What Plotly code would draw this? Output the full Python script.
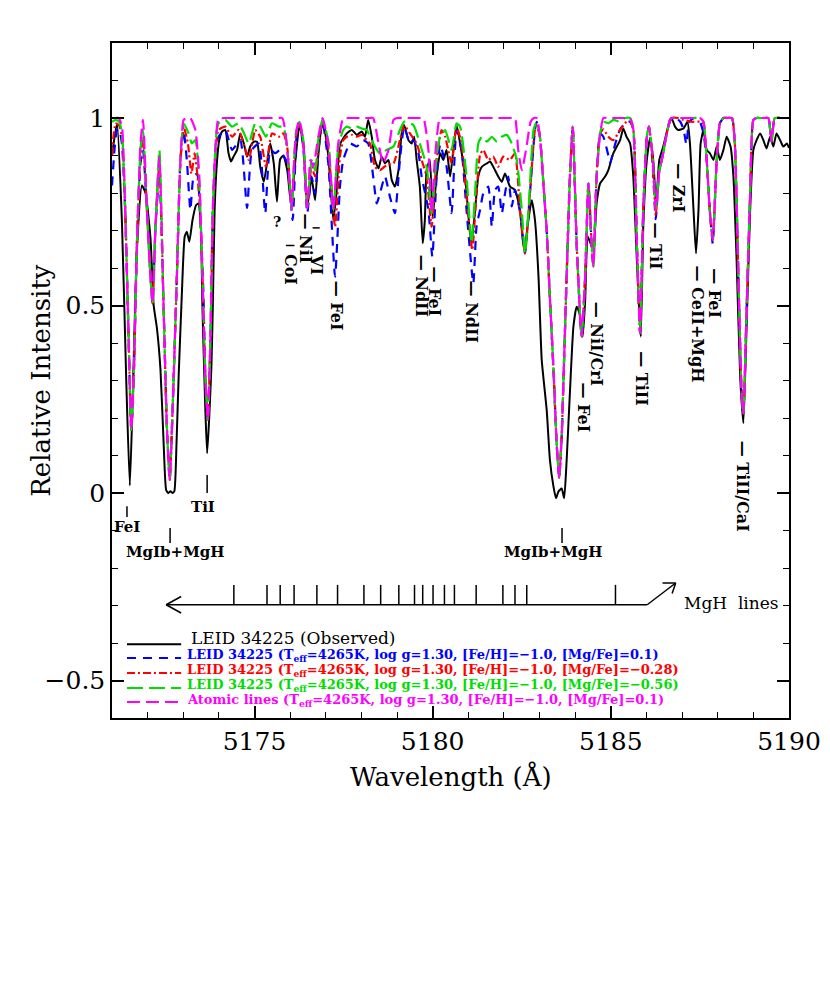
import plotly.graph_objects as go

# ---------------- data (wavelength in Angstrom, relative flux) ----------------
observed = [(5171.00,0.90),(5171.14,0.986),(5171.28,0.72),(5171.40,0.30),(5171.50,0.02),(5171.58,0.25),(5171.70,0.65),(5171.84,0.82),(5171.94,0.80),(5172.08,0.68),(5172.17,0.50),(5172.26,0.44),(5172.36,0.33),(5172.45,0.13),(5172.52,0.008),(5172.58,0.0),(5172.64,0.005),(5172.70,0.0),(5172.75,0.005),(5172.81,0.13),(5172.87,0.31),(5172.96,0.53),(5173.04,0.684),(5173.10,0.697),(5173.17,0.670),(5173.26,0.728),(5173.36,0.768),(5173.43,0.772),(5173.49,0.719),(5173.54,0.488),(5173.62,0.221),(5173.67,0.106),(5173.73,0.204),(5173.79,0.337),(5173.83,0.50),(5173.88,0.755),(5173.95,0.888),(5174.01,0.941),(5174.09,0.964),(5174.18,0.968),(5174.27,0.906),(5174.34,0.884),(5174.41,0.897),(5174.51,0.915),(5174.60,0.959),(5174.70,0.932),(5174.79,0.897),(5174.88,0.924),(5174.98,0.937),(5175.07,0.937),(5175.16,0.870),(5175.26,0.830),(5175.35,0.879),(5175.44,0.932),(5175.54,0.879),(5175.63,0.777),(5175.72,0.890),(5175.81,0.90),(5175.92,0.86),(5176.03,0.765),(5176.14,0.88),(5176.26,0.98),(5176.37,0.93),(5176.48,0.764),(5176.60,0.84),(5176.70,0.781),(5176.79,0.90),(5176.91,0.999),(5177.07,0.90),(5177.21,0.728),(5177.30,0.80),(5177.40,0.93),(5177.59,0.959),(5177.73,0.968),(5177.87,0.955),(5178.01,0.964),(5178.10,0.950),(5178.19,0.995),(5178.29,0.95),(5178.38,0.888),(5178.48,0.866),(5178.57,0.897),(5178.66,0.879),(5178.76,0.888),(5178.85,0.835),(5178.94,0.817),(5179.04,0.861),(5179.13,0.959),(5179.20,0.981),(5179.32,0.941),(5179.41,0.932),(5179.48,0.950),(5179.55,0.888),(5179.64,0.817),(5179.72,0.666),(5179.78,0.728),(5179.83,0.861),(5179.92,0.888),(5180.00,0.737),(5180.11,0.844),(5180.21,0.906),(5180.30,0.888),(5180.39,0.915),(5180.49,0.844),(5180.58,0.915),(5180.67,0.981),(5180.77,0.932),(5180.91,0.844),(5181.03,0.71),(5181.09,0.666),(5181.19,0.755),(5181.28,0.844),(5181.38,0.870),(5181.52,0.879),(5181.61,0.884),(5181.70,0.870),(5181.84,0.844),(5181.94,0.830),(5182.03,0.852),(5182.17,0.817),(5182.31,0.808),(5182.45,0.755),(5182.54,0.666),(5182.59,0.648),(5182.66,0.710),(5182.78,0.781),(5182.87,0.728),(5182.97,0.577),(5183.06,0.355),(5183.20,0.221),(5183.29,0.088),(5183.39,0.017),(5183.46,-0.014),(5183.53,0.004),(5183.62,0.012),(5183.69,-0.014),(5183.76,0.088),(5183.85,0.266),(5183.95,0.444),(5184.04,0.497),(5184.12,0.479),(5184.21,0.417),(5184.28,0.515),(5184.35,0.684),(5184.43,0.666),(5184.51,0.648),(5184.60,0.772),(5184.70,0.826),(5184.84,0.844),(5184.93,0.861),(5185.07,0.906),(5185.26,0.941),(5185.35,0.972),(5185.44,0.950),(5185.54,0.932),(5185.63,0.844),(5185.73,0.621),(5185.84,0.417),(5185.91,0.710),(5186.01,0.888),(5186.10,0.946),(5186.19,0.888),(5186.27,0.772),(5186.36,0.888),(5186.47,0.924),(5186.61,0.977),(5186.71,0.999),(5186.80,0.977),(5186.89,0.968),(5187.04,0.972),(5187.15,0.990),(5187.22,0.932),(5187.32,0.755),(5187.39,0.639),(5187.46,0.755),(5187.52,0.932),(5187.60,0.968),(5187.69,0.915),(5187.78,0.906),(5187.88,0.888),(5187.97,0.924),(5188.06,0.888),(5188.16,0.915),(5188.25,0.950),(5188.36,0.924),(5188.44,0.844),(5188.53,0.621),(5188.63,0.310),(5188.72,0.186),(5188.81,0.444),(5188.91,0.755),(5189.00,0.915),(5189.09,0.941),(5189.19,0.959),(5189.28,0.941),(5189.37,0.919),(5189.47,0.950),(5189.56,0.924),(5189.65,0.959),(5189.75,0.941),(5189.84,0.924),(5189.94,0.932),(5190.00,0.92)]

model_mgfe_p010 = [(5171.00,0.82),(5171.14,0.968),(5171.20,0.97),(5171.28,0.93),(5171.37,0.755),(5171.47,0.399),(5171.54,0.168),(5171.61,0.31),(5171.70,0.666),(5171.80,0.88),(5171.87,0.915),(5171.98,0.755),(5172.08,0.577),(5172.14,0.505),(5172.22,0.71),(5172.33,0.85),(5172.45,0.488),(5172.54,0.177),(5172.62,0.035),(5172.70,0.221),(5172.82,0.577),(5172.92,0.888),(5173.01,0.968),(5173.10,0.888),(5173.20,0.755),(5173.29,0.844),(5173.39,0.852),(5173.48,0.728),(5173.56,0.55),(5173.62,0.31),(5173.69,0.195),(5173.76,0.399),(5173.83,0.755),(5173.92,0.93),(5173.99,0.95),(5174.18,0.968),(5174.37,0.915),(5174.60,0.941),(5174.79,0.76),(5174.93,0.915),(5175.12,0.932),(5175.30,0.746),(5175.44,0.915),(5175.58,0.906),(5175.72,0.915),(5175.81,0.90),(5175.92,0.88),(5176.07,0.728),(5176.18,0.95),(5176.26,0.986),(5176.37,0.92),(5176.48,0.746),(5176.60,0.844),(5176.70,0.799),(5176.80,0.92),(5176.91,0.99),(5177.07,0.88),(5177.26,0.577),(5177.40,0.82),(5177.49,0.888),(5177.68,0.932),(5177.87,0.924),(5178.05,0.941),(5178.19,0.932),(5178.33,0.844),(5178.43,0.772),(5178.52,0.799),(5178.66,0.844),(5178.80,0.790),(5178.94,0.746),(5179.08,0.888),(5179.20,0.977),(5179.36,0.932),(5179.46,0.941),(5179.60,0.906),(5179.69,0.844),(5179.88,0.755),(5179.99,0.63),(5180.11,0.844),(5180.21,0.93),(5180.30,0.90),(5180.39,0.870),(5180.53,0.746),(5180.67,0.968),(5180.81,0.915),(5180.95,0.755),(5181.14,0.559),(5181.23,0.71),(5181.33,0.755),(5181.42,0.799),(5181.56,0.817),(5181.66,0.710),(5181.75,0.808),(5181.84,0.817),(5181.94,0.746),(5182.03,0.799),(5182.12,0.844),(5182.22,0.764),(5182.31,0.808),(5182.45,0.75),(5182.59,0.639),(5182.73,0.80),(5182.87,0.968),(5182.92,0.99),(5183.01,0.95),(5183.11,0.82),(5183.20,0.70),(5183.29,0.52),(5183.39,0.33),(5183.48,0.13),(5183.55,0.04),(5183.62,0.15),(5183.67,0.30),(5183.76,0.58),(5183.85,0.84),(5183.93,0.977),(5184.04,0.666),(5184.18,0.417),(5184.28,0.577),(5184.37,0.826),(5184.46,0.666),(5184.51,0.604),(5184.60,0.844),(5184.70,0.959),(5184.79,0.95),(5184.93,0.90),(5184.98,0.88),(5185.12,0.93),(5185.26,0.97),(5185.44,0.99),(5185.54,0.99),(5185.63,0.97),(5185.73,0.666),(5185.82,0.426),(5185.91,0.755),(5186.01,0.95),(5186.07,0.977),(5186.17,0.88),(5186.26,0.73),(5186.36,0.86),(5186.43,0.888),(5186.57,0.959),(5186.66,0.995),(5186.71,1.0),(5186.83,1.0),(5186.95,0.99),(5187.04,0.97),(5187.12,0.93),(5187.20,0.99),(5187.35,1.0),(5187.50,0.99),(5187.60,0.96),(5187.69,0.888),(5187.78,0.75),(5187.86,0.665),(5187.93,0.80),(5187.97,0.888),(5188.06,0.986),(5188.16,1.0),(5188.28,1.0),(5188.40,1.0),(5188.48,0.932),(5188.58,0.577),(5188.67,0.266),(5188.72,0.212),(5188.81,0.488),(5188.91,0.799),(5189.00,0.995),(5189.09,1.0),(5189.20,1.0),(5189.32,1.0),(5189.42,1.0),(5189.51,0.937),(5189.60,1.0),(5189.75,1.0),(5189.90,1.0),(5190.00,1.0)]

model_mgfe_m028 = [(5171.00,0.90),(5171.10,0.985),(5171.20,0.98),(5171.28,0.95),(5171.37,0.755),(5171.47,0.399),(5171.54,0.168),(5171.61,0.31),(5171.70,0.666),(5171.80,0.90),(5171.87,0.95),(5171.98,0.755),(5172.08,0.577),(5172.14,0.505),(5172.22,0.71),(5172.33,0.88),(5172.45,0.488),(5172.54,0.177),(5172.62,0.035),(5172.70,0.221),(5172.82,0.577),(5172.92,0.888),(5173.01,0.977),(5173.13,0.932),(5173.23,0.852),(5173.32,0.906),(5173.45,0.79),(5173.54,0.577),(5173.62,0.31),(5173.69,0.195),(5173.76,0.399),(5173.83,0.755),(5173.92,0.93),(5173.99,0.968),(5174.18,0.977),(5174.37,0.950),(5174.55,0.968),(5174.70,0.93),(5174.84,0.888),(5175.02,0.968),(5175.16,0.95),(5175.32,0.870),(5175.49,0.959),(5175.68,0.95),(5175.81,0.959),(5175.92,0.92),(5176.04,0.764),(5176.16,0.95),(5176.26,0.986),(5176.37,0.93),(5176.48,0.764),(5176.60,0.870),(5176.70,0.844),(5176.80,0.93),(5176.91,0.995),(5177.07,0.92),(5177.26,0.71),(5177.40,0.90),(5177.49,0.941),(5177.59,0.95),(5177.73,0.955),(5177.87,0.95),(5178.01,0.955),(5178.15,0.941),(5178.24,0.932),(5178.38,0.870),(5178.52,0.861),(5178.71,0.875),(5178.90,0.879),(5179.08,0.941),(5179.20,0.981),(5179.36,0.959),(5179.55,0.932),(5179.69,0.888),(5179.83,0.844),(5179.97,0.71),(5180.11,0.888),(5180.25,0.968),(5180.35,0.95),(5180.53,0.879),(5180.67,0.977),(5180.81,0.932),(5180.95,0.79),(5181.11,0.648),(5181.23,0.80),(5181.33,0.902),(5181.42,0.915),(5181.56,0.888),(5181.70,0.897),(5181.84,0.870),(5181.98,0.897),(5182.17,0.888),(5182.31,0.906),(5182.45,0.755),(5182.59,0.639),(5182.73,0.80),(5182.87,0.968),(5182.92,0.98),(5183.01,0.95),(5183.11,0.82),(5183.20,0.70),(5183.29,0.52),(5183.39,0.33),(5183.48,0.13),(5183.55,0.04),(5183.62,0.15),(5183.67,0.30),(5183.76,0.58),(5183.85,0.84),(5183.93,0.977),(5184.04,0.666),(5184.18,0.417),(5184.28,0.577),(5184.37,0.826),(5184.46,0.666),(5184.51,0.604),(5184.60,0.844),(5184.70,0.959),(5184.79,0.97),(5184.93,0.95),(5185.07,0.941),(5185.26,0.968),(5185.44,0.99),(5185.54,0.99),(5185.63,0.97),(5185.73,0.666),(5185.82,0.426),(5185.91,0.755),(5186.01,0.95),(5186.07,0.977),(5186.17,0.89),(5186.26,0.74),(5186.36,0.86),(5186.43,0.888),(5186.57,0.959),(5186.66,0.995),(5186.71,1.0),(5186.88,1.0),(5187.04,0.995),(5187.25,0.99),(5187.50,0.99),(5187.60,0.985),(5187.69,0.888),(5187.78,0.75),(5187.86,0.675),(5187.93,0.80),(5187.97,0.888),(5188.06,0.986),(5188.16,1.0),(5188.28,1.0),(5188.40,1.0),(5188.48,0.932),(5188.58,0.577),(5188.67,0.266),(5188.72,0.212),(5188.81,0.488),(5188.91,0.799),(5189.00,0.995),(5189.09,1.0),(5189.20,1.0),(5189.32,1.0),(5189.42,1.0),(5189.51,0.937),(5189.60,1.0),(5189.75,1.0),(5189.90,1.0),(5190.00,1.0)]

model_mgfe_m056 = [(5171.00,0.99),(5171.10,0.995),(5171.20,0.99),(5171.28,0.96),(5171.37,0.755),(5171.47,0.399),(5171.54,0.168),(5171.61,0.31),(5171.70,0.666),(5171.80,0.92),(5171.87,0.968),(5171.98,0.755),(5172.08,0.577),(5172.14,0.505),(5172.22,0.71),(5172.33,0.915),(5172.45,0.488),(5172.54,0.177),(5172.62,0.035),(5172.70,0.221),(5172.82,0.577),(5172.92,0.888),(5173.01,0.986),(5173.15,0.959),(5173.24,0.932),(5173.34,0.941),(5173.45,0.826),(5173.54,0.577),(5173.62,0.31),(5173.69,0.195),(5173.76,0.399),(5173.83,0.755),(5173.92,0.95),(5173.99,0.986),(5174.18,0.995),(5174.37,0.977),(5174.55,0.986),(5174.70,0.96),(5174.84,0.932),(5175.02,0.986),(5175.16,0.977),(5175.32,0.95),(5175.49,0.986),(5175.68,0.977),(5175.81,0.977),(5175.92,0.92),(5176.04,0.755),(5176.16,0.96),(5176.26,0.99),(5176.37,0.94),(5176.48,0.764),(5176.60,0.888),(5176.70,0.86),(5176.80,0.95),(5176.91,0.995),(5177.07,0.94),(5177.21,0.755),(5177.35,0.92),(5177.49,0.968),(5177.59,0.977),(5177.73,0.972),(5177.87,0.977),(5178.01,0.972),(5178.15,0.968),(5178.33,0.932),(5178.52,0.905),(5178.71,0.915),(5178.90,0.924),(5179.08,0.968),(5179.20,0.99),(5179.46,0.981),(5179.64,0.932),(5179.83,0.870),(5179.97,0.746),(5180.11,0.90),(5180.21,0.95),(5180.35,0.968),(5180.53,0.915),(5180.67,0.986),(5180.77,0.977),(5180.95,0.844),(5181.09,0.666),(5181.19,0.80),(5181.28,0.932),(5181.38,0.95),(5181.52,0.937),(5181.66,0.95),(5181.80,0.937),(5181.94,0.95),(5182.08,0.955),(5182.22,0.932),(5182.36,0.888),(5182.50,0.755),(5182.59,0.639),(5182.69,0.755),(5182.83,0.968),(5182.92,0.99),(5183.01,0.95),(5183.11,0.82),(5183.20,0.70),(5183.29,0.52),(5183.39,0.33),(5183.48,0.13),(5183.55,0.04),(5183.62,0.15),(5183.67,0.30),(5183.76,0.58),(5183.85,0.84),(5183.93,0.977),(5184.04,0.666),(5184.18,0.417),(5184.28,0.577),(5184.37,0.826),(5184.46,0.666),(5184.51,0.604),(5184.60,0.844),(5184.70,0.959),(5184.79,0.99),(5184.93,0.986),(5185.07,0.995),(5185.26,0.99),(5185.40,1.0),(5185.54,1.0),(5185.63,0.97),(5185.73,0.666),(5185.82,0.426),(5185.91,0.755),(5186.01,0.95),(5186.07,0.977),(5186.17,0.90),(5186.26,0.755),(5186.36,0.86),(5186.43,0.888),(5186.57,0.959),(5186.66,0.995),(5186.71,1.0),(5186.90,1.0),(5187.10,1.0),(5187.30,1.0),(5187.50,1.0),(5187.60,0.99),(5187.69,0.888),(5187.78,0.75),(5187.86,0.675),(5187.93,0.80),(5187.97,0.888),(5188.06,0.986),(5188.16,1.0),(5188.28,1.0),(5188.40,1.0),(5188.48,0.932),(5188.58,0.577),(5188.67,0.266),(5188.72,0.212),(5188.81,0.488),(5188.91,0.799),(5189.00,0.995),(5189.09,1.0),(5189.20,1.0),(5189.32,1.0),(5189.42,1.0),(5189.51,0.937),(5189.60,1.0),(5189.75,1.0),(5189.90,1.0),(5190.00,1.0)]

atomic_only = [(5171.00,1.0),(5171.10,1.0),(5171.19,1.0),(5171.28,0.977),(5171.37,0.755),(5171.47,0.399),(5171.54,0.168),(5171.61,0.31),(5171.70,0.666),(5171.80,0.932),(5171.87,0.995),(5171.98,0.755),(5172.08,0.577),(5172.14,0.505),(5172.22,0.71),(5172.33,0.897),(5172.45,0.488),(5172.54,0.177),(5172.62,0.035),(5172.70,0.221),(5172.82,0.577),(5172.92,0.888),(5173.01,0.995),(5173.10,1.0),(5173.20,1.0),(5173.34,0.968),(5173.45,0.844),(5173.54,0.577),(5173.62,0.31),(5173.69,0.195),(5173.76,0.399),(5173.83,0.755),(5173.92,0.95),(5173.99,1.0),(5174.10,1.0),(5174.50,1.0),(5175.00,1.0),(5175.50,1.0),(5175.68,1.0),(5175.78,1.0),(5175.86,0.968),(5175.95,0.88),(5176.04,0.755),(5176.12,0.90),(5176.18,0.968),(5176.26,0.995),(5176.37,0.932),(5176.48,0.759),(5176.57,0.888),(5176.65,0.870),(5176.79,0.95),(5176.91,1.0),(5177.07,0.932),(5177.21,0.755),(5177.35,0.932),(5177.49,1.0),(5177.60,1.0),(5177.85,1.0),(5178.10,1.0),(5178.23,1.0),(5178.33,1.0),(5178.48,0.932),(5178.61,0.879),(5178.76,0.915),(5178.90,0.995),(5179.00,1.0),(5179.20,1.0),(5179.45,1.0),(5179.64,1.0),(5179.74,1.0),(5179.88,0.915),(5179.97,0.746),(5180.06,0.888),(5180.20,1.0),(5180.30,1.0),(5180.60,1.0),(5180.90,1.0),(5181.20,1.0),(5181.50,1.0),(5181.80,1.0),(5182.10,1.0),(5182.22,1.0),(5182.31,1.0),(5182.40,0.915),(5182.50,0.861),(5182.62,0.915),(5182.75,0.99),(5182.84,1.0),(5182.92,1.0),(5183.01,0.95),(5183.11,0.82),(5183.20,0.70),(5183.29,0.52),(5183.39,0.33),(5183.48,0.13),(5183.55,0.04),(5183.62,0.15),(5183.67,0.30),(5183.76,0.58),(5183.85,0.84),(5183.93,0.977),(5184.04,0.666),(5184.18,0.417),(5184.28,0.577),(5184.37,0.826),(5184.46,0.666),(5184.51,0.604),(5184.60,0.844),(5184.70,0.959),(5184.79,1.0),(5184.90,1.0),(5185.15,1.0),(5185.40,1.0),(5185.54,1.0),(5185.63,0.97),(5185.73,0.666),(5185.82,0.426),(5185.91,0.755),(5186.01,0.95),(5186.07,0.977),(5186.17,0.90),(5186.26,0.755),(5186.36,0.86),(5186.43,0.888),(5186.57,0.959),(5186.66,0.995),(5186.71,1.0),(5186.90,1.0),(5187.10,1.0),(5187.30,1.0),(5187.50,1.0),(5187.60,0.99),(5187.69,0.888),(5187.78,0.75),(5187.86,0.675),(5187.93,0.80),(5187.97,0.888),(5188.06,0.986),(5188.16,1.0),(5188.28,1.0),(5188.40,1.0),(5188.48,0.932),(5188.58,0.577),(5188.67,0.266),(5188.72,0.212),(5188.81,0.488),(5188.91,0.799),(5189.00,0.995),(5189.09,1.0),(5189.20,1.0),(5189.32,1.0),(5189.42,1.0),(5189.51,0.937),(5189.60,1.0),(5189.75,1.0),(5189.90,1.0),(5190.00,1.0)]

# MgH line positions (tick marks on the arrow)
mgh_lines = [5174.42, 5175.35, 5175.72, 5176.11, 5176.75, 5177.33, 5178.07, 5178.54,
             5179.05, 5179.49, 5179.72, 5180.01, 5180.33, 5180.61, 5181.22, 5181.97,
             5182.31, 5182.64, 5185.13]

# rotated line identifications: (text, wavelength, flux of text centre)
rot_labels = [("— NiI", 5176.44, 0.679), ("— FeI", 5177.29, 0.499), ("— NdII", 5179.67, 0.553),
              ("— FeI", 5180.04, 0.537), ("— NdII", 5181.10, 0.484), ("— NiI/CrI", 5184.60, 0.399),
              ("— FeI", 5184.22, 0.228), ("— TiII", 5185.87, 0.304), ("— TiI", 5186.24, 0.66),
              ("— ZrI", 5186.91, 0.813), ("— CeII+MgH", 5187.42, 0.452), ("— FeI", 5187.92, 0.533),
              ("— TiII/CaI", 5188.68, 0.017), ("CoI", 5175.995, 0.595), ("VI", 5176.75, 0.608)]
# horizontal identifications: (text, text x, text y, tick x, tick y0, tick y1)
hor_labels = [("FeI", 5171.42, -0.091, 5171.42, -0.035, -0.064),
              ("MgIb+MgH", 5172.77, -0.157, 5172.63, -0.093, -0.133),
              ("TiI", 5173.55, -0.037, 5173.67, 0.048, 0.0),
              ("MgIb+MgH", 5183.38, -0.157, 5183.63, -0.093, -0.133)]

legend_entries = [
    ("LEID 34225 (Observed)", "black", "solid"),
    ("LEID 34225 (T<sub>eff</sub>=4265K, log g=1.30, [Fe/H]=−1.0, [Mg/Fe]=0.1)", "#0000ff", "9px,7px"),
    ("LEID 34225 (T<sub>eff</sub>=4265K, log g=1.30, [Fe/H]=−1.0, [Mg/Fe]=−0.28)", "#ff0000", "8px,3px,2px,3px"),
    ("LEID 34225 (T<sub>eff</sub>=4265K, log g=1.30, [Fe/H]=−1.0, [Mg/Fe]=−0.56)", "#00dd00", "16px,6px"),
    ("Atomic lines (T<sub>eff</sub>=4265K, log g=1.30, [Fe/H]=−1.0, [Mg/Fe]=0.1)", "#ff00ff", "13px,6px"),
]
legend_y_line = [-0.403, -0.44, -0.48, -0.52, -0.557]
legend_y_text = [-0.387, -0.432, -0.472, -0.512, -0.552]

series = [observed, model_mgfe_p010, model_mgfe_m028, model_mgfe_m056, atomic_only]

# ---------------- figure ----------------
fig = go.Figure()
for s, (name, color, dash) in zip(series, legend_entries):
    wl = [p[0] for p in s]
    fl = [p[1] for p in s]
    fig.add_trace(go.Scatter(x=wl, y=fl, mode="lines", showlegend=False,
                             line=dict(color=color, width=2.2 if color != "black" else 2,
                                       dash=dash, shape="spline", smoothing=0.5)))

# MgH tick marks
tx, ty = [], []
for l in mgh_lines:
    tx += [l, l, None]
    ty += [-0.298, -0.245, None]
fig.add_trace(go.Scatter(x=tx, y=ty, mode="lines", showlegend=False,
                         line=dict(color="black", width=1.5)))

ln = dict(color="black", width=1.5)
shapes = []
# arrow line
shapes.append(dict(type="line", x0=5172.52, x1=5186.02, y0=-0.298, y1=-0.298, xref="x", yref="y", line=ln))
shapes.append(dict(type="line", x0=5172.52, x1=5172.94, y0=-0.298, y1=-0.276, xref="x", yref="y", line=ln))
shapes.append(dict(type="line", x0=5172.52, x1=5172.94, y0=-0.298, y1=-0.320, xref="x", yref="y", line=ln))
shapes.append(dict(type="line", x0=5186.02, x1=5186.82, y0=-0.298, y1=-0.240, xref="x", yref="y", line=ln))
shapes.append(dict(type="line", x0=5186.82, x1=5186.45, y0=-0.240, y1=-0.240, xref="x", yref="y", line=ln))
shapes.append(dict(type="line", x0=5186.82, x1=5186.72, y0=-0.240, y1=-0.268, xref="x", yref="y", line=ln))
# bars of CoI / VI
shapes.append(dict(type="line", x0=5175.88, x1=5176.12, y0=0.66, y1=0.66, xref="x", yref="y", line=ln))
shapes.append(dict(type="line", x0=5176.63, x1=5176.83, y0=0.707, y1=0.707, xref="x", yref="y", line=ln))
# horizontal label ticks
for txt, x, y, tkx, y0, y1 in hor_labels:
    shapes.append(dict(type="line", x0=tkx, x1=tkx, y0=y0, y1=y1, xref="x", yref="y", line=ln))
# legend sample lines
for (name, color, dash), yl in zip(legend_entries, legend_y_line):
    shapes.append(dict(type="line", x0=5171.42, x1=5172.94, y0=yl, y1=yl, xref="x", yref="y",
                       line=dict(color=color, width=2, dash=dash)))

annotations = []
lab_font = dict(family="DejaVu Serif", size=16, color="black")
for txt, x, y in rot_labels:
    annotations.append(dict(x=x, y=y, xref="x", yref="y", text="<b>%s</b>" % txt, showarrow=False,
                            textangle=90, font=lab_font, xanchor="center", yanchor="middle"))
for txt, x, y, tkx, y0, y1 in hor_labels:
    annotations.append(dict(x=x, y=y, xref="x", yref="y", text="<b>%s</b>" % txt, showarrow=False,
                            font=dict(family="DejaVu Serif", size=15, color="black")))
annotations.append(dict(x=5175.63, y=0.723, xref="x", yref="y", text="<b>?</b>", showarrow=False,
                        font=dict(family="DejaVu Serif", size=14, color="black")))
annotations.append(dict(x=5187.0, y=-0.293, xref="x", yref="y", text="MgH  lines", showarrow=False,
                        xanchor="left", font=dict(family="DejaVu Serif", size=17, color="black")))
for i, ((name, color, dash), yt) in enumerate(zip(legend_entries, legend_y_text)):
    annotations.append(dict(x=5173.05 if i else 5173.17, y=yt, xref="x", yref="y",
                            text=name, showarrow=False, xanchor="left", yanchor="middle",
                            font=dict(family="DejaVu Serif", size=17 if i == 0 else 13,
                                      color=color, weight="bold" if i else "normal")))
# axis titles
annotations.append(dict(x=-0.106, y=0.5, xref="paper", yref="paper", text="Relative Intensity",
                        textangle=-90, showarrow=False, xanchor="center", yanchor="middle",
                        font=dict(family="DejaVu Serif", size=26, color="black")))
annotations.append(dict(x=0.5, y=-0.087, xref="paper", yref="paper", text="Wavelength (Å)",
                        showarrow=False, xanchor="center", yanchor="middle",
                        font=dict(family="DejaVu Serif", size=26, color="black")))

axis_common = dict(showline=True, linecolor="black", linewidth=1.5, mirror="ticks",
                   ticks="inside", ticklen=12, tickwidth=1.5, tickcolor="black",
                   showgrid=False, zeroline=False, automargin=False,
                   tickfont=dict(family="DejaVu Serif", size=25, color="black"))

# page body has an 8px margin: shrink the figure so the plot area lands where the reference has it
fig.update_layout(
    width=822, height=999,
    margin=dict(l=104, r=41, t=35, b=289),
    paper_bgcolor="white", plot_bgcolor="white",
    xaxis=dict(range=[5171, 5190], tickmode="linear", tick0=5175, dtick=5,
               minor=dict(dtick=1, tick0=5171, ticks="inside", ticklen=6, tickwidth=1.2, tickcolor="black"),
               **axis_common),
    yaxis=dict(range=[-0.6, 1.2], tickmode="linear", tick0=0, dtick=0.5,
               minor=dict(dtick=0.1, tick0=0, ticks="inside", ticklen=6, tickwidth=1.2, tickcolor="black"),
               **axis_common),
    shapes=shapes,
    annotations=annotations,
)

fig.write_html("out.html")
